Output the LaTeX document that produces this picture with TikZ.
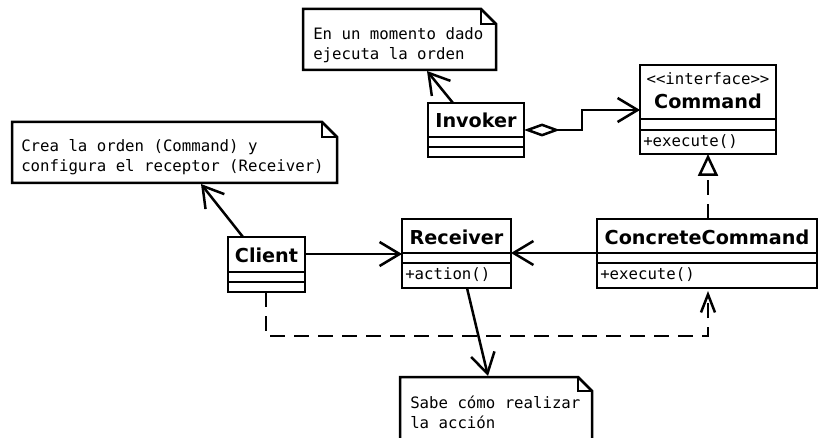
\documentclass[tikz,border=0pt]{standalone}
\usepackage{fontspec}
\setmainfont{DejaVu Sans}
\setsansfont{DejaVu Sans}
\setmonofont{DejaVu Sans Mono}
\usetikzlibrary{arrows.meta,calc}
\begin{document}
\begin{tikzpicture}[x=1pt,y=-1pt,line width=2.5pt,
  classbox/.style={draw,anchor=north west,inner sep=0pt,outer sep=0pt},
  notebox/.style={anchor=north west,inner sep=0pt,outer sep=0pt},
  cname/.style={font=\fontsize{19.2}{22}\selectfont\bfseries,inner sep=0pt},
  mono/.style={font=\fontsize{15.7}{20}\selectfont\ttfamily,inner sep=0pt},
  notetext/.style={mono,anchor=base west,align=left},
  barb/.style={-{Straight Barb[length=20pt,width=24pt]}},
  realize/.style={dash pattern=on 15pt off 9pt,-{Triangle[open,length=22pt,width=20pt,fill=white]}},
  depend/.style={dash pattern=on 15pt off 9pt,-{Straight Barb[length=18pt,width=14pt]}},
  aggr/.style={{Diamond[open,length=36pt,width=13pt,fill=white]}-{Straight Barb[length=20pt,width=24pt]}}
]
\useasboundingbox (0,0) rectangle (819,438);
\begin{scope}
\clip (0,0) rectangle (819,438);

% ---- notes ----
\node[notebox,minimum width=193pt,minimum height=61pt] (n1) at (303,9) {};
\draw[line join=miter] (n1.north west) -- ($(n1.north east)+(-15,0)$) -- ($(n1.north east)+(0,15)$) -- (n1.south east) -- (n1.south west) -- cycle;
\draw[line width=1.2pt] ($(n1.north east)+(-15,0)$) -- ($(n1.north east)+(-15,15)$) -- ($(n1.north east)+(0,15)$);
\node[notetext] (n1t) at (312,60) {En un momento dado\\ejecuta la orden};

\node[notebox,minimum width=325pt,minimum height=61pt] (n2) at (12,122) {};
\draw[line join=miter] (n2.north west) -- ($(n2.north east)+(-15,0)$) -- ($(n2.north east)+(0,15)$) -- (n2.south east) -- (n2.south west) -- cycle;
\draw[line width=1.2pt] ($(n2.north east)+(-15,0)$) -- ($(n2.north east)+(-15,15)$) -- ($(n2.north east)+(0,15)$);
\node[notetext] (n2t) at (20,172) {Crea la orden (Command) y\\configura el receptor (Receiver)};

\node[notebox,minimum width=192pt,minimum height=80pt] (n3) at (400,377) {};
\draw[line join=miter] (n3.north west) -- ($(n3.north east)+(-14,0)$) -- ($(n3.north east)+(0,14)$) -- (n3.south east) -- (n3.south west) -- cycle;
\draw[line width=1.2pt] ($(n3.north east)+(-14,0)$) -- ($(n3.north east)+(-14,14)$) -- ($(n3.north east)+(0,14)$);
\node[notetext] (n3t) at (409,428) {Sabe cómo realizar\\la acción};

% ---- classes ----
% Command
\node[classbox,minimum width=136pt,minimum height=89pt] (cmd) at (640,65) {};
\draw ($(cmd.north west)+(0,54)$) -- ($(cmd.north east)+(0,54)$);
\draw ($(cmd.north west)+(0,65)$) -- ($(cmd.north east)+(0,65)$);
\node[mono] (cmdst) at (708,79) {<<interface>>};
\node[cname] (cmdn) at (708,101) {Command};
\node[mono,anchor=west] (cmdm) at (642,142) {+execute()};

% Invoker
\node[classbox,minimum width=96pt,minimum height=54pt] (inv) at (428,103) {};
\draw ($(inv.north west)+(0,34)$) -- ($(inv.north east)+(0,34)$);
\draw ($(inv.north west)+(0,44)$) -- ($(inv.north east)+(0,44)$);
\node[cname] (invn) at (476,120) {Invoker};

% Client
\node[classbox,minimum width=77pt,minimum height=55pt] (cli) at (228,237) {};
\draw ($(cli.north west)+(0,35)$) -- ($(cli.north east)+(0,35)$);
\draw ($(cli.north west)+(0,45)$) -- ($(cli.north east)+(0,45)$);
\node[cname] (clin) at (266.5,255) {Client};

% Receiver
\node[classbox,minimum width=109pt,minimum height=69pt] (rcv) at (402,219) {};
\draw ($(rcv.north west)+(0,34)$) -- ($(rcv.north east)+(0,34)$);
\draw ($(rcv.north west)+(0,44)$) -- ($(rcv.north east)+(0,44)$);
\node[cname] (rcvn) at (456.5,237) {Receiver};
\node[mono,anchor=west] (rcvm) at (404,275) {+action()};

% ConcreteCommand
\node[classbox,minimum width=220pt,minimum height=69pt] (cc) at (597,219) {};
\draw ($(cc.north west)+(0,34)$) -- ($(cc.north east)+(0,34)$);
\draw ($(cc.north west)+(0,44)$) -- ($(cc.north east)+(0,44)$);
\node[cname] (ccn) at (707,237) {ConcreteCommand};
\node[mono,anchor=west] (ccm) at (599,275) {+execute()};

% ---- connectors ----
\draw[barb] ($(inv.north west)+(25,0)$) -- ($(n1.south west)+(124,1)$);
\draw[barb] ($(cli.north west)+(15,0)$) -- ($(n2.south west)+(189,1)$);
\draw[barb] ($(rcv.south west)+(65,0)$) -- ($(n3.north west)+(88,-1)$);
\draw[aggr] (inv.east |- 0,130) -- (582,130) -- (582,110) -- (cmd.west |- 0,110);
\draw[barb] (cli.east |- 0,254) -- (rcv.west |- 0,254);
\draw[barb] (cc.west |- 0,253) -- (rcv.east |- 0,253);
\draw[realize] (cc.north -| 708,0) -- (cmd.south -| 708,0);
\draw[depend] (cli.south -| 266,0) -- (266,336) -- (708,336) -- ($(cc.south -| 708,0)+(0,3)$);
\end{scope}
\end{tikzpicture}
\end{document}
